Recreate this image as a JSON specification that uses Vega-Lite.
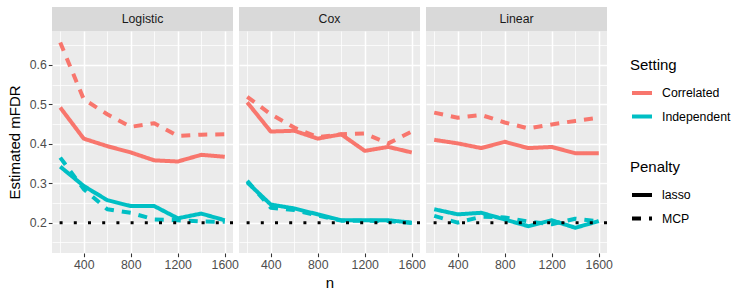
{
  "$schema": "https://vega.github.io/schema/vega-lite/v6.json",
  "background": "white",
  "padding": {"left": 7, "top": 7, "right": 5, "bottom": 5},
  "config": {
    "font": "Liberation Sans",
    "view": {"stroke": null},
    "axis": {"domain": false, "labelColor": "#4D4D4D", "labelFontSize": 12.3, "labelPadding": 2, "tickColor": "#333333", "tickSize": 3.7, "tickWidth": 1.07, "gridColor": "#FFFFFF", "titleColor": "#000000", "titleFontSize": 15, "titleFontWeight": "normal"},
    "axisY": {"titlePadding": 7},
    "axisX": {"titlePadding": 4},
    "legend": {"titleFontSize": 15, "titleFontWeight": "normal", "titleColor": "#000000", "labelFontSize": 12.3, "labelColor": "#000000", "symbolType": "stroke", "symbolStrokeWidth": 4, "symbolSize": 400, "labelOffset": 8, "titlePadding": 8, "rowPadding": 3.5}
  },
  "datasets": {
    "mfdr": [
      {"model":"Logistic","setting":"Correlated","penalty":"lasso","n":200,"mfdr":0.492},
      {"model":"Logistic","setting":"Correlated","penalty":"lasso","n":400,"mfdr":0.413},
      {"model":"Logistic","setting":"Correlated","penalty":"lasso","n":600,"mfdr":0.394},
      {"model":"Logistic","setting":"Correlated","penalty":"lasso","n":800,"mfdr":0.378},
      {"model":"Logistic","setting":"Correlated","penalty":"lasso","n":1000,"mfdr":0.358},
      {"model":"Logistic","setting":"Correlated","penalty":"lasso","n":1200,"mfdr":0.355},
      {"model":"Logistic","setting":"Correlated","penalty":"lasso","n":1400,"mfdr":0.372},
      {"model":"Logistic","setting":"Correlated","penalty":"lasso","n":1600,"mfdr":0.367},
      {"model":"Logistic","setting":"Correlated","penalty":"MCP","n":200,"mfdr":0.657},
      {"model":"Logistic","setting":"Correlated","penalty":"MCP","n":400,"mfdr":0.513},
      {"model":"Logistic","setting":"Correlated","penalty":"MCP","n":600,"mfdr":0.475},
      {"model":"Logistic","setting":"Correlated","penalty":"MCP","n":800,"mfdr":0.443},
      {"model":"Logistic","setting":"Correlated","penalty":"MCP","n":1000,"mfdr":0.452},
      {"model":"Logistic","setting":"Correlated","penalty":"MCP","n":1200,"mfdr":0.420},
      {"model":"Logistic","setting":"Correlated","penalty":"MCP","n":1400,"mfdr":0.423},
      {"model":"Logistic","setting":"Correlated","penalty":"MCP","n":1600,"mfdr":0.424},
      {"model":"Logistic","setting":"Independent","penalty":"lasso","n":200,"mfdr":0.342},
      {"model":"Logistic","setting":"Independent","penalty":"lasso","n":400,"mfdr":0.293},
      {"model":"Logistic","setting":"Independent","penalty":"lasso","n":600,"mfdr":0.257},
      {"model":"Logistic","setting":"Independent","penalty":"lasso","n":800,"mfdr":0.242},
      {"model":"Logistic","setting":"Independent","penalty":"lasso","n":1000,"mfdr":0.242},
      {"model":"Logistic","setting":"Independent","penalty":"lasso","n":1200,"mfdr":0.211},
      {"model":"Logistic","setting":"Independent","penalty":"lasso","n":1400,"mfdr":0.223},
      {"model":"Logistic","setting":"Independent","penalty":"lasso","n":1600,"mfdr":0.206},
      {"model":"Logistic","setting":"Independent","penalty":"MCP","n":200,"mfdr":0.365},
      {"model":"Logistic","setting":"Independent","penalty":"MCP","n":400,"mfdr":0.285},
      {"model":"Logistic","setting":"Independent","penalty":"MCP","n":600,"mfdr":0.234},
      {"model":"Logistic","setting":"Independent","penalty":"MCP","n":800,"mfdr":0.225},
      {"model":"Logistic","setting":"Independent","penalty":"MCP","n":1000,"mfdr":0.208},
      {"model":"Logistic","setting":"Independent","penalty":"MCP","n":1200,"mfdr":0.206},
      {"model":"Logistic","setting":"Independent","penalty":"MCP","n":1400,"mfdr":0.203},
      {"model":"Logistic","setting":"Independent","penalty":"MCP","n":1600,"mfdr":0.202},
      {"model":"Cox","setting":"Correlated","penalty":"lasso","n":200,"mfdr":0.505},
      {"model":"Cox","setting":"Correlated","penalty":"lasso","n":400,"mfdr":0.431},
      {"model":"Cox","setting":"Correlated","penalty":"lasso","n":600,"mfdr":0.433},
      {"model":"Cox","setting":"Correlated","penalty":"lasso","n":800,"mfdr":0.413},
      {"model":"Cox","setting":"Correlated","penalty":"lasso","n":1000,"mfdr":0.424},
      {"model":"Cox","setting":"Correlated","penalty":"lasso","n":1200,"mfdr":0.382},
      {"model":"Cox","setting":"Correlated","penalty":"lasso","n":1400,"mfdr":0.392},
      {"model":"Cox","setting":"Correlated","penalty":"lasso","n":1600,"mfdr":0.378},
      {"model":"Cox","setting":"Correlated","penalty":"MCP","n":200,"mfdr":0.519},
      {"model":"Cox","setting":"Correlated","penalty":"MCP","n":400,"mfdr":0.475},
      {"model":"Cox","setting":"Correlated","penalty":"MCP","n":600,"mfdr":0.441},
      {"model":"Cox","setting":"Correlated","penalty":"MCP","n":800,"mfdr":0.417},
      {"model":"Cox","setting":"Correlated","penalty":"MCP","n":1000,"mfdr":0.424},
      {"model":"Cox","setting":"Correlated","penalty":"MCP","n":1200,"mfdr":0.426},
      {"model":"Cox","setting":"Correlated","penalty":"MCP","n":1400,"mfdr":0.401},
      {"model":"Cox","setting":"Correlated","penalty":"MCP","n":1600,"mfdr":0.431},
      {"model":"Cox","setting":"Independent","penalty":"lasso","n":200,"mfdr":0.302},
      {"model":"Cox","setting":"Independent","penalty":"lasso","n":400,"mfdr":0.246},
      {"model":"Cox","setting":"Independent","penalty":"lasso","n":600,"mfdr":0.236},
      {"model":"Cox","setting":"Independent","penalty":"lasso","n":800,"mfdr":0.221},
      {"model":"Cox","setting":"Independent","penalty":"lasso","n":1000,"mfdr":0.206},
      {"model":"Cox","setting":"Independent","penalty":"lasso","n":1200,"mfdr":0.206},
      {"model":"Cox","setting":"Independent","penalty":"lasso","n":1400,"mfdr":0.206},
      {"model":"Cox","setting":"Independent","penalty":"lasso","n":1600,"mfdr":0.200},
      {"model":"Cox","setting":"Independent","penalty":"MCP","n":200,"mfdr":0.306},
      {"model":"Cox","setting":"Independent","penalty":"MCP","n":400,"mfdr":0.238},
      {"model":"Cox","setting":"Independent","penalty":"MCP","n":600,"mfdr":0.232},
      {"model":"Cox","setting":"Independent","penalty":"MCP","n":800,"mfdr":0.218},
      {"model":"Cox","setting":"Independent","penalty":"MCP","n":1000,"mfdr":0.205},
      {"model":"Cox","setting":"Independent","penalty":"MCP","n":1200,"mfdr":0.205},
      {"model":"Cox","setting":"Independent","penalty":"MCP","n":1400,"mfdr":0.204},
      {"model":"Cox","setting":"Independent","penalty":"MCP","n":1600,"mfdr":0.199},
      {"model":"Linear","setting":"Correlated","penalty":"lasso","n":200,"mfdr":0.410},
      {"model":"Linear","setting":"Correlated","penalty":"lasso","n":400,"mfdr":0.401},
      {"model":"Linear","setting":"Correlated","penalty":"lasso","n":600,"mfdr":0.389},
      {"model":"Linear","setting":"Correlated","penalty":"lasso","n":800,"mfdr":0.405},
      {"model":"Linear","setting":"Correlated","penalty":"lasso","n":1000,"mfdr":0.389},
      {"model":"Linear","setting":"Correlated","penalty":"lasso","n":1200,"mfdr":0.392},
      {"model":"Linear","setting":"Correlated","penalty":"lasso","n":1400,"mfdr":0.376},
      {"model":"Linear","setting":"Correlated","penalty":"lasso","n":1600,"mfdr":0.376},
      {"model":"Linear","setting":"Correlated","penalty":"MCP","n":200,"mfdr":0.479},
      {"model":"Linear","setting":"Correlated","penalty":"MCP","n":400,"mfdr":0.466},
      {"model":"Linear","setting":"Correlated","penalty":"MCP","n":600,"mfdr":0.473},
      {"model":"Linear","setting":"Correlated","penalty":"MCP","n":800,"mfdr":0.454},
      {"model":"Linear","setting":"Correlated","penalty":"MCP","n":1000,"mfdr":0.439},
      {"model":"Linear","setting":"Correlated","penalty":"MCP","n":1200,"mfdr":0.449},
      {"model":"Linear","setting":"Correlated","penalty":"MCP","n":1400,"mfdr":0.458},
      {"model":"Linear","setting":"Correlated","penalty":"MCP","n":1600,"mfdr":0.466},
      {"model":"Linear","setting":"Independent","penalty":"lasso","n":200,"mfdr":0.234},
      {"model":"Linear","setting":"Independent","penalty":"lasso","n":400,"mfdr":0.221},
      {"model":"Linear","setting":"Independent","penalty":"lasso","n":600,"mfdr":0.225},
      {"model":"Linear","setting":"Independent","penalty":"lasso","n":800,"mfdr":0.208},
      {"model":"Linear","setting":"Independent","penalty":"lasso","n":1000,"mfdr":0.191},
      {"model":"Linear","setting":"Independent","penalty":"lasso","n":1200,"mfdr":0.206},
      {"model":"Linear","setting":"Independent","penalty":"lasso","n":1400,"mfdr":0.187},
      {"model":"Linear","setting":"Independent","penalty":"lasso","n":1600,"mfdr":0.204},
      {"model":"Linear","setting":"Independent","penalty":"MCP","n":200,"mfdr":0.217},
      {"model":"Linear","setting":"Independent","penalty":"MCP","n":400,"mfdr":0.200},
      {"model":"Linear","setting":"Independent","penalty":"MCP","n":600,"mfdr":0.215},
      {"model":"Linear","setting":"Independent","penalty":"MCP","n":800,"mfdr":0.213},
      {"model":"Linear","setting":"Independent","penalty":"MCP","n":1000,"mfdr":0.203},
      {"model":"Linear","setting":"Independent","penalty":"MCP","n":1200,"mfdr":0.196},
      {"model":"Linear","setting":"Independent","penalty":"MCP","n":1400,"mfdr":0.210},
      {"model":"Linear","setting":"Independent","penalty":"MCP","n":1600,"mfdr":0.203}
    ]
  },
  "spacing": -2,
  "resolve": {"scale": {"x": "independent", "y": "independent", "color": "shared", "strokeDash": "shared"}, "legend": {"color": "shared", "strokeDash": "shared"}},
  "hconcat": [
    {
      "spacing": 0,
      "vconcat": [
        {"width": 181, "height": 24, "view": {"fill": "#D9D9D9", "stroke": null},
         "data": {"values": [{"panel": "Logistic"}]},
         "mark": {"type": "text", "fontSize": 12.3, "color": "#1A1A1A"},
         "encoding": {"text": {"field": "panel", "type": "nominal"}}},
        {"width": 181, "height": 222, "view": {"fill": "#EBEBEB", "stroke": null},
         "layer": [
          {"data": {"name": "mfdr"},
           "transform": [{"filter": "datum.model === 'Logistic'"}],
           "mark": {"type": "line", "strokeWidth": 4, "strokeCap": "butt", "strokeJoin": "round"},
           "encoding": {
             "x": {"field": "n", "type": "quantitative", "scale": {"domain": [130, 1670], "nice": false, "zero": false},
                   "axis": {"title": null, "format": "d", "values": [200,400,600,800,1000,1200,1400,1600], "labelExpr": "datum.value % 400 === 0 ? datum.label : ''", "gridWidth": {"condition": {"test": "datum.value % 400 === 0", "value": 1.5}, "value": 0.75}, "tickOpacity": {"condition": {"test": "datum.value % 400 === 0", "value": 1}, "value": 0}}},
             "y": {"field": "mfdr", "type": "quantitative", "scale": {"domain": [0.123, 0.686], "nice": false, "zero": false},
                   "axis": {"title": "Estimated mFDR", "format": ".2f", "values": [0.15,0.2,0.25,0.3,0.35,0.4,0.45,0.5,0.55,0.6,0.65], "labelExpr": "(datum.value * 20) % 2 > 0.5 && (datum.value * 20) % 2 < 1.5 ? '' : format(datum.value, '.1f')", "gridWidth": {"condition": {"test": "(datum.value * 20) % 2 > 0.5 && (datum.value * 20) % 2 < 1.5", "value": 0.75}, "value": 1.5}, "tickOpacity": {"condition": {"test": "(datum.value * 20) % 2 > 0.5 && (datum.value * 20) % 2 < 1.5", "value": 0}, "value": 1}}},
             "color": {"field": "setting", "type": "nominal", "scale": {"domain": ["Correlated", "Independent"], "range": ["#F8766D", "#00BFC4"]}, "legend": {"title": "Setting", "orient": "none", "legendX": 578, "legendY": 51}},
             "strokeDash": {"field": "penalty", "type": "nominal", "scale": {"domain": ["lasso", "MCP"], "range": [[1, 0], [9, 8]]}, "legend": {"title": "Penalty", "orient": "none", "legendX": 578, "legendY": 153, "symbolStrokeColor": "#000000"}}
           }},
          {"data": {"values": [{"mfdr": 0.2}]},
           "mark": {"type": "rule", "color": "#000000", "strokeWidth": 3, "strokeDash": [3, 11.2], "strokeCap": "butt"},
           "encoding": {"y": {"field": "mfdr", "type": "quantitative", "scale": {"domain": [0.123, 0.686], "nice": false, "zero": false},
                   "axis": {"title": "Estimated mFDR", "format": ".2f", "values": [0.15,0.2,0.25,0.3,0.35,0.4,0.45,0.5,0.55,0.6,0.65], "labelExpr": "(datum.value * 20) % 2 > 0.5 && (datum.value * 20) % 2 < 1.5 ? '' : format(datum.value, '.1f')", "gridWidth": {"condition": {"test": "(datum.value * 20) % 2 > 0.5 && (datum.value * 20) % 2 < 1.5", "value": 0.75}, "value": 1.5}, "tickOpacity": {"condition": {"test": "(datum.value * 20) % 2 > 0.5 && (datum.value * 20) % 2 < 1.5", "value": 0}, "value": 1}}}}}
         ]}
      ]
    },
    {
      "spacing": 0,
      "vconcat": [
        {"width": 181, "height": 24, "view": {"fill": "#D9D9D9", "stroke": null},
         "data": {"values": [{"panel": "Cox"}]},
         "mark": {"type": "text", "fontSize": 12.3, "color": "#1A1A1A"},
         "encoding": {"text": {"field": "panel", "type": "nominal"}}},
        {"width": 181, "height": 222, "view": {"fill": "#EBEBEB", "stroke": null},
         "layer": [
          {"data": {"name": "mfdr"},
           "transform": [{"filter": "datum.model === 'Cox'"}],
           "mark": {"type": "line", "strokeWidth": 4, "strokeCap": "butt", "strokeJoin": "round"},
           "encoding": {
             "x": {"field": "n", "type": "quantitative", "scale": {"domain": [130, 1670], "nice": false, "zero": false},
                   "axis": {"title": "n", "format": "d", "values": [200,400,600,800,1000,1200,1400,1600], "labelExpr": "datum.value % 400 === 0 ? datum.label : ''", "gridWidth": {"condition": {"test": "datum.value % 400 === 0", "value": 1.5}, "value": 0.75}, "tickOpacity": {"condition": {"test": "datum.value % 400 === 0", "value": 1}, "value": 0}}},
             "y": {"field": "mfdr", "type": "quantitative", "scale": {"domain": [0.123, 0.686], "nice": false, "zero": false},
                   "axis": {"title": null, "labels": false, "ticks": false, "values": [0.15,0.2,0.25,0.3,0.35,0.4,0.45,0.5,0.55,0.6,0.65], "gridWidth": {"condition": {"test": "(datum.value * 20) % 2 > 0.5 && (datum.value * 20) % 2 < 1.5", "value": 0.75}, "value": 1.5}}},
             "color": {"field": "setting", "type": "nominal", "scale": {"domain": ["Correlated", "Independent"], "range": ["#F8766D", "#00BFC4"]}, "legend": {"title": "Setting", "orient": "none", "legendX": 578, "legendY": 51}},
             "strokeDash": {"field": "penalty", "type": "nominal", "scale": {"domain": ["lasso", "MCP"], "range": [[1, 0], [9, 8]]}, "legend": {"title": "Penalty", "orient": "none", "legendX": 578, "legendY": 153, "symbolStrokeColor": "#000000"}}
           }},
          {"data": {"values": [{"mfdr": 0.2}]},
           "mark": {"type": "rule", "color": "#000000", "strokeWidth": 3, "strokeDash": [3, 11.2], "strokeCap": "butt"},
           "encoding": {"y": {"field": "mfdr", "type": "quantitative", "scale": {"domain": [0.123, 0.686], "nice": false, "zero": false},
                   "axis": {"title": null, "labels": false, "ticks": false, "values": [0.15,0.2,0.25,0.3,0.35,0.4,0.45,0.5,0.55,0.6,0.65], "gridWidth": {"condition": {"test": "(datum.value * 20) % 2 > 0.5 && (datum.value * 20) % 2 < 1.5", "value": 0.75}, "value": 1.5}}}}}
         ]}
      ]
    },
    {
      "spacing": 0,
      "vconcat": [
        {"width": 181, "height": 24, "view": {"fill": "#D9D9D9", "stroke": null},
         "data": {"values": [{"panel": "Linear"}]},
         "mark": {"type": "text", "fontSize": 12.3, "color": "#1A1A1A"},
         "encoding": {"text": {"field": "panel", "type": "nominal"}}},
        {"width": 181, "height": 222, "view": {"fill": "#EBEBEB", "stroke": null},
         "layer": [
          {"data": {"name": "mfdr"},
           "transform": [{"filter": "datum.model === 'Linear'"}],
           "mark": {"type": "line", "strokeWidth": 4, "strokeCap": "butt", "strokeJoin": "round"},
           "encoding": {
             "x": {"field": "n", "type": "quantitative", "scale": {"domain": [130, 1670], "nice": false, "zero": false},
                   "axis": {"title": null, "format": "d", "values": [200,400,600,800,1000,1200,1400,1600], "labelExpr": "datum.value % 400 === 0 ? datum.label : ''", "gridWidth": {"condition": {"test": "datum.value % 400 === 0", "value": 1.5}, "value": 0.75}, "tickOpacity": {"condition": {"test": "datum.value % 400 === 0", "value": 1}, "value": 0}}},
             "y": {"field": "mfdr", "type": "quantitative", "scale": {"domain": [0.123, 0.686], "nice": false, "zero": false},
                   "axis": {"title": null, "labels": false, "ticks": false, "values": [0.15,0.2,0.25,0.3,0.35,0.4,0.45,0.5,0.55,0.6,0.65], "gridWidth": {"condition": {"test": "(datum.value * 20) % 2 > 0.5 && (datum.value * 20) % 2 < 1.5", "value": 0.75}, "value": 1.5}}},
             "color": {"field": "setting", "type": "nominal", "scale": {"domain": ["Correlated", "Independent"], "range": ["#F8766D", "#00BFC4"]}, "legend": {"title": "Setting", "orient": "none", "legendX": 578, "legendY": 51}},
             "strokeDash": {"field": "penalty", "type": "nominal", "scale": {"domain": ["lasso", "MCP"], "range": [[1, 0], [9, 8]]}, "legend": {"title": "Penalty", "orient": "none", "legendX": 578, "legendY": 153, "symbolStrokeColor": "#000000"}}
           }},
          {"data": {"values": [{"mfdr": 0.2}]},
           "mark": {"type": "rule", "color": "#000000", "strokeWidth": 3, "strokeDash": [3, 11.2], "strokeCap": "butt"},
           "encoding": {"y": {"field": "mfdr", "type": "quantitative", "scale": {"domain": [0.123, 0.686], "nice": false, "zero": false},
                   "axis": {"title": null, "labels": false, "ticks": false, "values": [0.15,0.2,0.25,0.3,0.35,0.4,0.45,0.5,0.55,0.6,0.65], "gridWidth": {"condition": {"test": "(datum.value * 20) % 2 > 0.5 && (datum.value * 20) % 2 < 1.5", "value": 0.75}, "value": 1.5}}}}}
         ]}
      ]
    }
  ]
}
